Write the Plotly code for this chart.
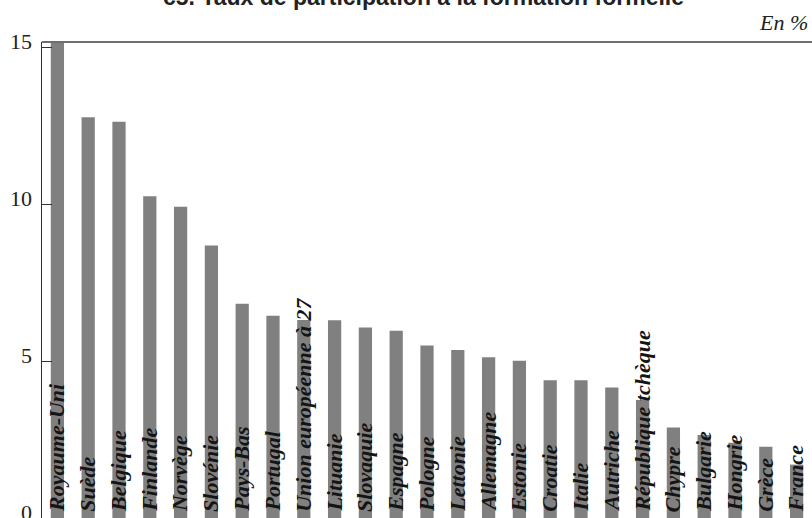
import plotly.graph_objects as go

countries = ["Royaume-Uni", "Suède", "Belgique", "Finlande", "Norvège", "Slovénie",
             "Pays-Bas", "Portugal", "Union européenne à 27", "Lituanie", "Slovaquie",
             "Espagne", "Pologne", "Lettonie", "Allemagne", "Estonie", "Croatie", "Italie",
             "Autriche", "République tchèque", "Chypre", "Bulgarie", "Hongrie", "Grèce", "France"]
values = [15.3, 12.76, 12.62, 10.25, 9.91, 8.68, 6.82, 6.44, 6.31, 6.30, 6.07, 5.96,
          5.49, 5.35, 5.12, 5.01, 4.39, 4.39, 4.16, 3.76, 2.88, 2.64, 2.40, 2.27, 1.70]
tick_vals = [0, 5, 10, 15]
tick_labels = ["0", "5", "10", "15"]
title_text = "c5. Taux de participation à la formation formelle"
unit_text = "En %"

W, H = 812, 518
ML, MT, MB, MR = 42, 42, 0, 0
PH = H - MT - MB

def py(p):
    return (H - MB - p) / PH

fig = go.Figure()
fig.add_trace(go.Bar(
    x=countries, y=values,
    marker=dict(color="#808080", line=dict(width=0)),
    width=0.43,
    hoverinfo="x+y",
))

annotations = []
for c in countries:
    annotations.append(dict(
        x=c, y=0, xref="x", yref="y",
        text="<b><i>" + c + "</i></b>",
        textangle=-90, showarrow=False,
        xanchor="center", yanchor="bottom", yshift=4, xshift=-1,
        font=dict(family="Liberation Serif", size=22, color="#141414"),
    ))
for v, t in zip(tick_vals, tick_labels):
    annotations.append(dict(
        x=0, y=v, xref="paper", yref="y",
        text=t, showarrow=False,
        xanchor="right", yanchor="middle", xshift=-8, yshift=6,
        font=dict(family="Liberation Serif", size=22, color="#222"),
    ))
annotations.append(dict(
    x=(423 - ML) / (W - ML - MR), y=py(-3), xref="paper", yref="paper",
    text="<b>" + title_text + "</b>", showarrow=False,
    xanchor="center", yanchor="middle",
    font=dict(family="Liberation Sans", size=23, color="#222"),
))
annotations.append(dict(
    x=(810 - ML) / (W - ML - MR), y=py(23), xref="paper", yref="paper",
    text="<i>" + unit_text + "</i>", showarrow=False,
    xanchor="right", yanchor="middle",
    font=dict(family="Liberation Serif", size=22, color="#222"),
))

fig.update_layout(
    width=W, height=H,
    margin=dict(l=ML, r=MR, t=MT, b=MB, pad=0),
    paper_bgcolor="white", plot_bgcolor="white",
    showlegend=False,
    annotations=annotations,
    shapes=[dict(type="line", xref="paper", yref="paper", x0=0, x1=1, y0=1, y1=1,
                 line=dict(color="#6e6e6e", width=2), layer="above")],
    xaxis=dict(showticklabels=False, showgrid=False, zeroline=False, showline=False,
               ticks="", range=[-0.5, len(countries) - 0.5]),
    yaxis=dict(range=[0, 15.16], tickvals=tick_vals, showticklabels=False,
               showgrid=False, zeroline=False, showline=True, linecolor="#333",
               linewidth=1, ticks="inside", ticklen=10, tickcolor="#333", tickwidth=1),
)

fig.write_html(
    "out.html",
    config={"displayModeBar": False},
    post_script="document.body.style.margin='0';document.body.style.overflow='hidden';",
)
